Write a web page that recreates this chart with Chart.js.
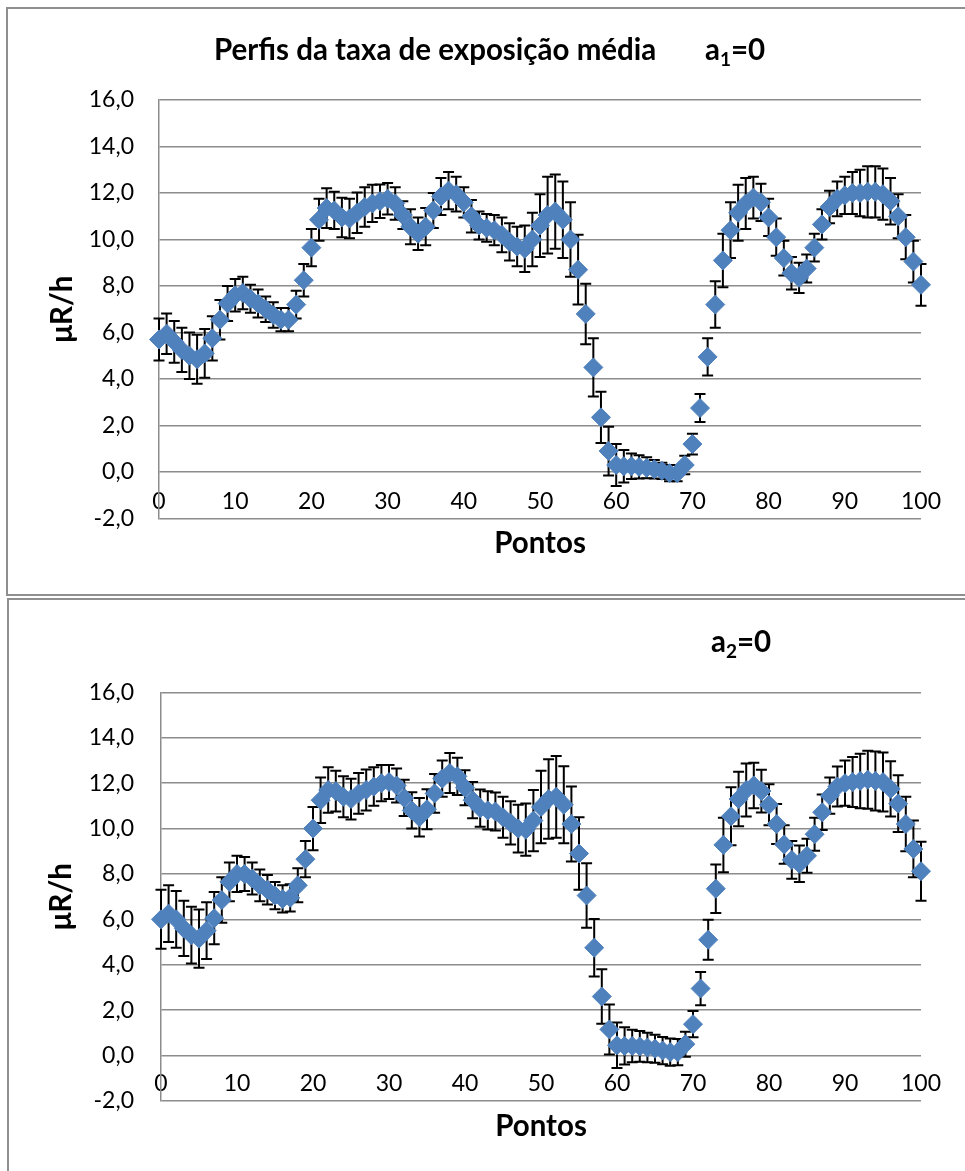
<!DOCTYPE html>
<html>
<head>
<meta charset="utf-8">
<script src="https://cdn.jsdelivr.net/npm/chart.js"></script>
<style>
  html, body { margin: 0; padding: 0; background: #fff; overflow: hidden; width: 965px; height: 1171px; }
  .quadro { position: absolute; border: 2px solid #8f8f8f; box-sizing: border-box; }
  canvas { position: absolute; left: 0; }
</style>
</head>
<body>
<div class="quadro" style="left:6px; top:7px; width:990px; height:589px;"></div>
<div class="quadro" style="left:7px; top:598px; width:990px; height:620px;"></div>
<canvas id="grafico1" width="965" height="597" style="top:0"></canvas>
<canvas id="grafico2" width="965" height="574" style="top:597px"></canvas>
<script>
// Dados (Pontos 0..100)
var pontos = [0, 1, 2, 3, 4, 5, 6, 7, 8, 9, 10, 11, 12, 13, 14, 15, 16, 17, 18, 19,
  20, 21, 22, 23, 24, 25, 26, 27, 28, 29, 30, 31, 32, 33, 34, 35, 36, 37, 38, 39,
  40, 41, 42, 43, 44, 45, 46, 47, 48, 49, 50, 51, 52, 53, 54, 55, 56, 57, 58, 59,
  60, 61, 62, 63, 64, 65, 66, 67, 68, 69, 70, 71, 72, 73, 74, 75, 76, 77, 78, 79,
  80, 81, 82, 83, 84, 85, 86, 87, 88, 89, 90, 91, 92, 93, 94, 95, 96, 97, 98, 99, 100];

// Taxa de exposição média, a1=0 (μR/h)
var media1 = [5.7, 5.95, 5.6, 5.25, 5.0, 4.85, 5.1, 5.75, 6.55, 7.25,
  7.6, 7.7, 7.45, 7.25, 7.0, 6.75, 6.55, 6.55, 7.2, 8.25,
  9.65, 10.85, 11.35, 11.25, 10.95, 10.9, 11.15, 11.4, 11.55, 11.65,
  11.75, 11.55, 11.05, 10.55, 10.25, 10.55, 11.25, 11.85, 12.1, 11.95,
  11.6, 11.0, 10.6, 10.5, 10.4, 10.2, 9.9, 9.7, 9.6, 10.0,
  10.6, 11.05, 11.2, 10.85, 10.0, 8.7, 6.8, 4.5, 2.35, 0.9,
  0.3, 0.25, 0.25, 0.22, 0.18, 0.12, 0.05, -0.05, -0.05, 0.3,
  1.2, 2.75, 4.95, 7.2, 9.1, 10.4, 11.15, 11.55, 11.8, 11.6,
  10.95, 10.1, 9.2, 8.55, 8.35, 8.75, 9.65, 10.65, 11.4, 11.75,
  11.9, 12.0, 12.0, 12.05, 12.05, 11.95, 11.65, 11.0, 10.1, 9.05,
  8.05];
var desvio1 = [0.9, 0.87, 0.9, 0.95, 1.0, 1.05, 1.05, 0.95, 0.85, 0.75,
  0.7, 0.7, 0.6, 0.6, 0.55, 0.55, 0.5, 0.5, 0.6, 0.7,
  0.8, 0.9, 0.85, 0.8, 0.85, 0.85, 0.87, 0.85, 0.8, 0.72,
  0.68, 0.7, 0.6, 0.75, 0.7, 0.8, 0.75, 0.8, 0.8, 0.75,
  0.65, 0.7, 0.6, 0.6, 0.65, 0.75, 0.8, 0.85, 1.0, 1.15,
  1.35, 1.65, 1.6, 1.65, 1.6, 1.5, 1.3, 1.25, 1.1, 1.05,
  0.9, 0.7, 0.55, 0.5, 0.45, 0.4, 0.35, 0.35, 0.35, 0.4,
  0.45, 0.6, 0.8, 1.0, 1.15, 1.2, 1.2, 1.1, 0.9, 0.8,
  0.8, 0.8, 0.75, 0.7, 0.65, 0.6, 0.6, 0.65, 0.7, 0.75,
  0.8, 0.9, 1.0, 1.1, 1.1, 1.1, 1.0, 0.95, 0.95, 0.9,
  0.9];

// Taxa de exposição média, a2=0 (μR/h)
var media2 = [6.0, 6.25, 6.0, 5.6, 5.3, 5.15, 5.5, 6.05, 6.85, 7.65,
  8.0, 8.0, 7.8, 7.5, 7.3, 7.05, 6.9, 6.95, 7.5, 8.65,
  10.0, 11.25, 11.7, 11.65, 11.4, 11.3, 11.55, 11.7, 11.85, 12.0,
  12.05, 11.9, 11.35, 10.8, 10.5, 10.85, 11.55, 12.2, 12.45, 12.3,
  11.8, 11.25, 10.9, 10.8, 10.75, 10.5, 10.25, 10.0, 9.95, 10.35,
  10.95, 11.3, 11.4, 11.05, 10.2, 8.9, 7.05, 4.75, 2.6, 1.15,
  0.45, 0.42, 0.42, 0.4, 0.35, 0.3, 0.22, 0.15, 0.15, 0.5,
  1.38, 2.95, 5.1, 7.35, 9.28, 10.54, 11.3, 11.7, 11.9, 11.65,
  11.05, 10.2, 9.3, 8.62, 8.45, 8.8, 9.75, 10.72, 11.45, 11.85,
  12.0, 12.05, 12.1, 12.15, 12.1, 12.05, 11.75, 11.1, 10.2, 9.1,
  8.12];
var desvio2 = [1.3, 1.25, 1.25, 1.22, 1.25, 1.28, 1.25, 1.15, 1.0, 0.85,
  0.8, 0.75, 0.7, 0.7, 0.65, 0.6, 0.6, 0.6, 0.75, 0.8,
  0.95, 1.0, 1.0, 0.9, 0.9, 0.9, 0.9, 0.9, 0.85, 0.8,
  0.75, 0.75, 0.8, 0.8, 0.85, 0.88, 0.85, 0.8, 0.88, 0.82,
  0.77, 0.8, 0.82, 0.84, 0.84, 0.9, 0.95, 1.05, 1.15, 1.35,
  1.6, 1.75, 1.8, 1.7, 1.65, 1.6, 1.42, 1.27, 1.2, 1.1,
  1.0, 0.82, 0.72, 0.68, 0.65, 0.62, 0.6, 0.6, 0.58, 0.55,
  0.58, 0.73, 0.88, 1.07, 1.2, 1.28, 1.2, 1.17, 1.0, 0.94,
  0.9, 0.88, 0.85, 0.83, 0.8, 0.75, 0.73, 0.78, 0.8, 0.88,
  1.0, 1.1, 1.2, 1.28, 1.3, 1.3, 1.22, 1.25, 1.2, 1.25,
  1.3];

// Marcas dos eixos
var ticksX = [0, 10, 20, 30, 40, 50, 60, 70, 80, 90, 100];
var ticksY = [-2, 0, 2, 4, 6, 8, 10, 12, 14, 16];

var fonte = 'Lato';

// Barras de erro (desvio) desenhadas com as escalas do gráfico
var barrasErro = {
  id: 'barrasErro',
  beforeDatasetsDraw: function(chart, args, opts) {
    var ctx = chart.ctx;
    var x = chart.scales.x, y = chart.scales.y;
    var dados = chart.data.datasets[0].data;
    ctx.save();
    ctx.strokeStyle = '#000';
    ctx.lineWidth = 2;
    dados.forEach(function(p, i) {
      var e = opts.desvios[i];
      var px = x.getPixelForValue(p.x);
      var cima = y.getPixelForValue(p.y + e);
      var baixo = y.getPixelForValue(p.y - e);
      ctx.beginPath();
      ctx.moveTo(px, cima); ctx.lineTo(px, baixo);
      ctx.moveTo(px - 5.5, cima); ctx.lineTo(px + 5.5, cima);
      ctx.moveTo(px - 5.5, baixo); ctx.lineTo(px + 5.5, baixo);
      ctx.stroke();
    });
    ctx.restore();
  }
};

// Título com índice (a1, a2)
var titulos = {
  id: 'titulos',
  afterDraw: function(chart, args, opts) {
    var ctx = chart.ctx;
    ctx.save();
    ctx.fillStyle = '#000';
    ctx.textBaseline = 'middle';
    ctx.font = 'bold 29.5px ' + fonte;
    if (opts.texto) ctx.fillText(opts.texto, opts.xTexto, opts.y);
    var x = opts.xA;
    ctx.fillText('a', x, opts.y);
    x += ctx.measureText('a').width;
    ctx.font = 'bold 19px ' + fonte;
    ctx.fillText(opts.indice, x, opts.y + 10);
    x += ctx.measureText(opts.indice).width;
    ctx.font = 'bold 29.5px ' + fonte;
    ctx.fillText('=0', x, opts.y);
    ctx.restore();
  }
};

function virgula(v) {
  return Number(v).toFixed(1).replace('.', ',');
}

function criarGrafico(id, medias, desvios, c) {
  var ctx = document.getElementById(id).getContext('2d');
  var dados = pontos.map(function(p, i) { return {x: p, y: medias[i]}; });

  return new Chart(ctx, {
    type: 'scatter',
    data: {
      datasets: [{
        data: dados,
        pointStyle: 'rectRot',
        pointRadius: 9.5,
        backgroundColor: '#4F81BD',
        borderColor: '#4F81BD',
        borderWidth: 1,
        clip: false
      }]
    },
    plugins: [barrasErro, titulos],
    options: {
      responsive: false,
      animation: false,
      devicePixelRatio: 1,
      layout: { padding: { left: c.padEsq, right: 44, top: c.padTopo, bottom: c.padBase } },
      plugins: {
        legend: { display: false },
        tooltip: { enabled: false },
        barrasErro: { desvios: desvios },
        titulos: { texto: c.texto, xTexto: 214, xA: c.xA, y: c.yTitulo, indice: c.indice }
      },
      scales: {
        x: {
          type: 'linear',
          min: 0,
          max: 100,
          afterBuildTicks: function(s) { s.ticks = ticksX.map(function(v) { return {value: v}; }); },
          afterFit: function(s) { s.height = c.altX; },
          grid: { display: false, drawTicks: false },
          border: { display: false },
          // rótulos espelhados: ficam entre o 0 e o -2, como no original
          ticks: { mirror: true, padding: c.padTickX, color: '#000', font: { family: fonte, size: 23 }, maxRotation: 0 },
          title: { display: true, text: 'Pontos', color: '#000', padding: 0,
                   font: { family: fonte, size: 29.5, weight: 'bold' } }
        },
        y: {
          min: -2,
          max: 16,
          afterBuildTicks: function(s) { s.ticks = ticksY.map(function(v) { return {value: v}; }); },
          afterFit: function(s) { s.width = c.largY; },
          grid: { color: '#8c8c8c', lineWidth: 1.5, drawTicks: false },
          border: { display: true, color: '#8c8c8c', width: 1.5 },
          ticks: { padding: c.padTickY, color: '#000', font: { family: fonte, size: 23 }, callback: virgula },
          title: { display: true, text: 'μR/h', color: '#000', padding: 0,
                   font: { family: fonte, size: 29.5, weight: 'bold' } }
        }
      }
    }
  });
}

criarGrafico('grafico1', media1, desvio1, {
  padEsq: 44.3, largY: 114.7, padTopo: 100, padBase: 36.3, altX: 42.2, padTickY: 25, padTickX: 3.3,
  texto: 'Perfis da taxa de exposição média', xA: 705, yTitulo: 50, indice: '1'
});
criarGrafico('grafico2', media2, desvio2, {
  padEsq: 43.8, largY: 117.2, padTopo: 95.4, padBase: 27.3, altX: 42.8, padTickY: 27, padTickX: 3.9,
  texto: '', xA: 711, yTitulo: 45, indice: '2'
});
</script>
</body>
</html>
